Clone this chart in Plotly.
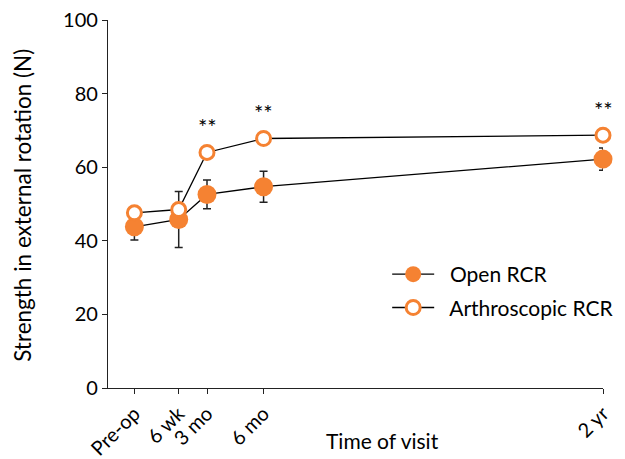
import plotly.graph_objects as go

# Data
visit_labels = ["Pre-op", "6 wk", "3 mo", "6 mo", "2 yr"]
visit_months = [-0.85, 1.5, 3, 6, 24]
open_mean = [43.8, 45.8, 52.6, 54.7, 62.2]
open_err = [3.6, 7.6, 3.9, 4.2, 3.0]
arthro_mean = [47.6, 48.5, 64.0, 67.8, 68.7]
sig_labels = ["", "", "**", "**", "**"]
series_names = ["Open RCR", "Arthroscopic RCR"]

ORANGE = "#F58232"
FONT = "Lato, 'Open Sans', sans-serif"
PAD = "\u00a0\u00a0"

fig = go.Figure()
fig.add_trace(go.Scatter(
    x=visit_months, y=open_mean, name=PAD + series_names[0], mode="lines+markers",
    legendgroup="a",
    line=dict(color="black", width=1.3),
    marker=dict(color=ORANGE, size=19, line=dict(width=0)),
    error_y=dict(type="data", array=open_err, visible=True, color="#222", thickness=1.5, width=4),
    cliponaxis=False,
))
fig.add_trace(go.Scatter(
    x=visit_months, y=arthro_mean, name=PAD + series_names[1], mode="lines+markers",
    legendgroup="b",
    line=dict(color="black", width=1.3),
    marker=dict(color="white", size=14, line=dict(color=ORANGE, width=3)),
    cliponaxis=False,
))

for xm, ym, s in zip(visit_months, arthro_mean, sig_labels):
    if s:
        fig.add_annotation(x=xm, y=ym, text=s, showarrow=False, yshift=26,
                           font=dict(family=FONT, size=22, color="black"))

# axis titles as annotations for exact placement
fig.add_annotation(text="Time of visit", xref="paper", yref="paper", x=0.555, y=-0.142,
                   xanchor="center", yanchor="middle", showarrow=False,
                   font=dict(family=FONT, size=21, color="black"))
fig.add_annotation(text="Strength in external rotation (N)", xref="paper", yref="paper",
                   x=-0.173, y=0.496, xanchor="center", yanchor="middle", textangle=-90,
                   showarrow=False, font=dict(family=FONT, size=22.5, color="black"))

fig.update_layout(
    width=625, height=459,
    margin=dict(l=100, r=30, t=12, b=79),
    plot_bgcolor="white", paper_bgcolor="white",
    font=dict(family=FONT, size=20, color="black"),
    showlegend=True,
    legend=dict(x=0.564, y=0.364, xanchor="left", yanchor="top",
                font=dict(family=FONT, size=21), bgcolor="rgba(0,0,0,0)",
                tracegroupgap=3, itemwidth=42),
)
fig.update_xaxes(
    range=[-2.25, 24], tickmode="array", tickvals=visit_months, ticktext=visit_labels,
    tickangle=-45, ticks="outside", ticklen=5, tickwidth=1.3, tickcolor="#222",
    showline=True, linecolor="#222", linewidth=1.3, showgrid=False, zeroline=False,
    automargin=False, ticklabeloverflow="allow", tickfont=dict(family=FONT, size=20),
)
fig.update_yaxes(
    range=[0, 100], tickvals=[0, 20, 40, 60, 80, 100],
    ticks="outside", ticklen=5, tickwidth=1.3, tickcolor="#222",
    showline=True, linecolor="#222", linewidth=1.3, showgrid=False, zeroline=False,
    automargin=False, ticklabeloverflow="allow", tickfont=dict(family=FONT, size=20),
)

fig.write_html("out.html")
